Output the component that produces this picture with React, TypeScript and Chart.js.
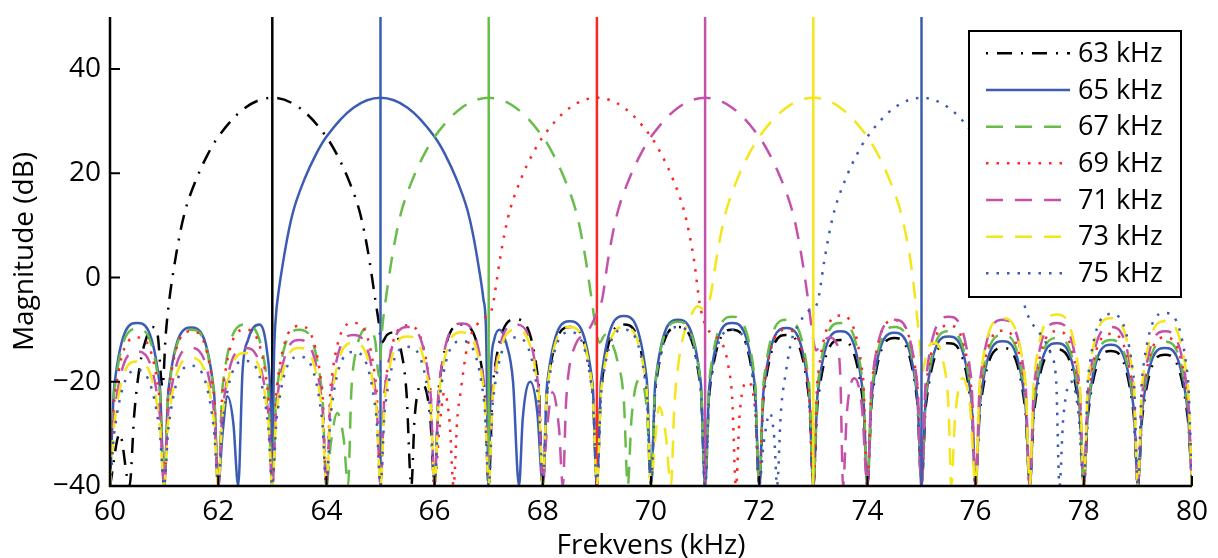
import { useEffect, useRef } from 'react';
import { Chart, registerables } from 'chart.js';

Chart.register(...registerables);

const FONT = '"Open Sans", "Noto Sans", sans-serif';

const freqTicks = [60, 62, 64, 66, 68, 70, 72, 74, 76, 78, 80];
const dbTicks = [-40, -20, 0, 20, 40];
const xRange = [60, 80];
const yRange = [-40, 50];

const seriesLabels = ['63 kHz', '65 kHz', '67 kHz', '69 kHz', '71 kHz', '73 kHz', '75 kHz'];
const centerFreqs = [63, 65, 67, 69, 71, 73, 75];

type P = [number, number];

const s63: P[] = [
  [60, -40], [60.18, -30], [60.36, -40], [60.45, -26], [60.55, -17], [60.66, -12], [60.78, -9.5], [60.88, -11], [60.97, -21], [61.03, -11],
  [61.1, -4], [61.2, 3], [61.3, 8.8], [61.4, 13.2], [61.6, 19], [61.8, 23.5], [62, 27], [62.5, 32.6], [63, 34.5],
  [63.5, 32.6], [64, 27], [64.2, 23.5], [64.4, 19], [64.6, 13.2], [64.7, 8.8], [64.8, 3], [64.9, -4],
  [64.96, -8], [65.02, -12.5], [65.12, -11], [65.25, -10.5], [65.38, -14], [65.48, -22], [65.57, -40], [65.63, -27], [65.78, -20.5], [65.92, -27],
  [66, -40], [66.08, -21], [66.5, -9], [66.92, -21],
  [67, -40], [67.08, -20], [67.5, -8], [67.92, -20],
  [68, -40], [68.08, -21.5], [68.5, -9.5], [68.92, -21.5],
  [69, -40], [69.08, -21], [69.5, -9], [69.92, -21],
  [70, -40], [70.08, -21.5], [70.5, -9.5], [70.92, -21.5],
  [71, -40], [71.08, -22], [71.5, -10], [71.92, -22],
  [72, -40], [72.08, -23], [72.5, -11], [72.92, -23],
  [73, -40], [73.08, -24], [73.5, -12], [73.92, -24],
  [74, -40], [74.08, -23.6], [74.5, -11.6], [74.92, -23.6],
  [75, -40], [75.08, -24.6], [75.5, -12.6], [75.92, -24.6],
  [76, -40], [76.08, -25.5], [76.5, -13.5], [76.92, -25.5],
  [77, -40], [77.08, -25.8], [77.5, -13.8], [77.92, -25.8],
  [78, -40], [78.08, -26.1], [78.5, -14.1], [78.92, -26.1],
  [79, -40], [79.08, -26.8], [79.5, -14.8], [79.92, -26.8], [80, -40],
];

const s65: P[] = [
  [60, -40], [60.08, -20.7], [60.5, -8.7], [60.92, -20.7],
  [61, -40], [61.08, -21.6], [61.5, -9.6], [61.92, -21.6],
  [62, -40], [62.08, -30], [62.17, -22.8], [62.28, -28], [62.37, -40], [62.45, -18], [62.55, -12], [62.76, -9], [62.9, -14], [62.97, -24],
  [63, -40], [63.03, -16], [63.07, -7], [63.1, -4], [63.2, 3], [63.3, 8.8], [63.4, 13.2], [63.6, 19], [63.8, 23.5], [64, 27], [64.5, 32.6], [65, 34.5],
  [65.5, 32.6], [66, 27], [66.2, 23.5], [66.4, 19], [66.6, 13.2], [66.7, 8.8], [66.8, 3], [66.9, -4], [66.95, -10],
  [67, -40], [67.04, -18], [67.1, -12], [67.2, -10], [67.32, -12.5], [67.45, -20], [67.56, -40], [67.63, -27], [67.77, -20], [67.9, -26],
  [68, -40], [68.08, -20.4], [68.5, -8.4], [68.92, -20.4],
  [69, -40], [69.08, -19.4], [69.5, -7.4], [69.92, -19.4],
  [70, -40], [70.08, -20.1], [70.5, -8.1], [70.92, -20.1],
  [71, -40], [71.08, -20.7], [71.5, -8.7], [71.92, -20.7],
  [72, -40], [72.08, -21.7], [72.5, -9.7], [72.92, -21.7],
  [73, -40], [73.08, -22.3], [73.5, -10.3], [73.92, -22.3],
  [74, -40], [74.08, -22.6], [74.5, -10.6], [74.92, -22.6],
  [75, -40], [75.08, -23.3], [75.5, -11.3], [75.92, -23.3],
  [76, -40], [76.08, -24.2], [76.5, -12.2], [76.92, -24.2],
  [77, -40], [77.08, -24.6], [77.5, -12.6], [77.92, -24.6],
  [78, -40], [78.08, -24.9], [78.5, -12.9], [78.92, -24.9],
  [79, -40], [79.08, -25.5], [79.5, -13.5], [79.92, -25.5], [80, -40],
];

const s67: P[] = [
  [60, -40], [60.08, -21.8], [60.5, -9.8], [60.92, -21.8],
  [61, -40], [61.08, -22], [61.5, -10], [61.92, -22],
  [62, -40], [62.08, -21], [62.5, -9], [62.92, -21],
  [63, -40], [63.08, -22], [63.5, -10], [63.92, -22],
  [64, -40], [64.08, -32], [64.2, -26], [64.32, -31], [64.4, -40], [64.46, -22], [64.55, -14], [64.76, -9.7], [64.9, -12], [64.97, -19],
  [65.03, -10], [65.1, -4], [65.2, 3], [65.3, 8.8], [65.4, 13.2], [65.6, 19], [65.8, 23.5], [66, 27], [66.5, 32.6], [67, 34.5],
  [67.5, 32.6], [68, 27], [68.2, 23.5], [68.4, 19], [68.6, 13.2], [68.7, 8.8], [68.8, 3], [68.9, -4], [69, -11], [69.05, -12.5],
  [69.15, -11], [69.25, -12], [69.38, -16], [69.5, -24], [69.57, -40], [69.64, -27], [69.78, -19.6], [69.92, -25],
  [70, -40], [70.08, -20.5], [70.5, -8.5], [70.92, -20.5],
  [71, -40], [71.08, -19.5], [71.5, -7.5], [71.92, -19.5],
  [72, -40], [72.08, -20.1], [72.5, -8.1], [72.92, -20.1],
  [73, -40], [73.08, -20.7], [73.5, -8.7], [73.92, -20.7],
  [74, -40], [74.08, -21.5], [74.5, -9.5], [74.92, -21.5],
  [75, -40], [75.08, -22.3], [75.5, -10.3], [75.92, -22.3],
  [76, -40], [76.08, -23], [76.5, -11], [76.92, -23],
  [77, -40], [77.08, -23.6], [77.5, -11.6], [77.92, -23.6],
  [78, -40], [78.08, -24], [78.5, -12], [78.92, -24],
  [79, -40], [79.08, -24.3], [79.5, -12.3], [79.92, -24.3], [80, -40],
];

const s69: P[] = [
  [60, -40], [60.08, -23.5], [60.5, -11.5], [60.92, -23.5],
  [61, -40], [61.08, -22.3], [61.5, -10.3], [61.92, -22.3],
  [62, -40], [62.08, -22], [62.5, -10], [62.92, -22],
  [63, -40], [63.08, -21.3], [63.5, -9.3], [63.92, -21.3],
  [64, -40], [64.08, -20.7], [64.5, -8.7], [64.92, -20.7],
  [65, -40], [65.08, -21.2], [65.5, -9.2], [65.92, -21.2],
  [66, -40], [66.08, -30], [66.18, -22], [66.28, -28], [66.35, -40], [66.42, -27], [66.48, -22], [66.6, -13.5], [66.8, -8.8], [66.95, -7.5], [67.06, -6],
  [67.2, 3], [67.3, 8.8], [67.4, 13.2], [67.6, 19], [67.8, 23.5], [68, 27], [68.5, 32.6], [69, 34.5],
  [69.5, 32.6], [70, 27], [70.2, 23.5], [70.4, 19], [70.6, 13.2], [70.7, 8.8], [70.8, 3], [70.9, -5], [71, -9], [71.1, -10.6], [71.22, -11.5], [71.35, -13.5], [71.43, -17], [71.5, -23],
  [71.57, -40], [71.64, -26], [71.78, -20], [71.92, -25],
  [72, -40], [72.08, -22], [72.5, -10], [72.92, -22],
  [73, -40], [73.08, -19.3], [73.5, -7.3], [73.92, -19.3],
  [74, -40], [74.08, -20.2], [74.5, -8.2], [74.92, -20.2],
  [75, -40], [75.08, -21.2], [75.5, -9.2], [75.92, -21.2],
  [76, -40], [76.08, -22.2], [76.5, -10.2], [76.92, -22.2],
  [77, -40], [77.08, -22.3], [77.5, -10.3], [77.92, -22.3],
  [78, -40], [78.08, -22.8], [78.5, -10.8], [78.92, -22.8],
  [79, -40], [79.08, -23.5], [79.5, -11.5], [79.92, -23.5], [80, -40],
];

const s71: P[] = [
  [60, -40], [60.08, -26.2], [60.5, -14.2], [60.92, -26.2],
  [61, -40], [61.08, -25.5], [61.5, -13.5], [61.92, -25.5],
  [62, -40], [62.08, -25.5], [62.5, -13.5], [62.92, -25.5],
  [63, -40], [63.08, -24], [63.5, -12], [63.92, -24],
  [64, -40], [64.08, -23], [64.5, -11], [64.92, -23],
  [65, -40], [65.08, -21.5], [65.5, -9.5], [65.92, -21.5],
  [66, -40], [66.08, -20.8], [66.5, -8.8], [66.92, -20.8],
  [67, -40], [67.08, -21], [67.5, -9], [67.92, -21],
  [68, -40], [68.07, -30], [68.18, -22], [68.3, -29], [68.37, -40], [68.43, -24], [68.48, -18], [68.6, -13], [68.85, -10], [68.97, -7.5], [69.1, -4],
  [69.2, 3], [69.3, 8.8], [69.4, 13.2], [69.6, 19], [69.8, 23.5], [70, 27], [70.5, 32.6], [71, 34.5],
  [71.5, 32.6], [72, 27], [72.2, 23.5], [72.4, 19], [72.6, 13.2], [72.7, 8.8], [72.8, 3], [72.9, -4], [73, -12], [73.05, -14], [73.15, -12.5], [73.3, -11.5], [73.42, -12.5], [73.5, -19],
  [73.55, -40], [73.62, -26], [73.76, -19.3], [73.9, -25],
  [74, -40], [74.08, -20.1], [74.5, -8.1], [74.92, -20.1],
  [75, -40], [75.08, -19.5], [75.5, -7.5], [75.92, -19.5],
  [76, -40], [76.08, -20.1], [76.5, -8.1], [76.92, -20.1],
  [77, -40], [77.08, -20.7], [77.5, -8.7], [77.92, -20.7],
  [78, -40], [78.08, -21.5], [78.5, -9.5], [78.92, -21.5],
  [79, -40], [79.08, -22.3], [79.5, -10.3], [79.92, -22.3], [80, -40],
];

const s73: P[] = [
  [60, -40], [60.08, -28.1], [60.5, -16.1], [60.92, -28.1],
  [61, -40], [61.08, -27.4], [61.5, -15.4], [61.92, -27.4],
  [62, -40], [62.08, -26.5], [62.5, -14.5], [62.92, -26.5],
  [63, -40], [63.08, -25.5], [63.5, -13.5], [63.92, -25.5],
  [64, -40], [64.08, -24.5], [64.5, -12.5], [64.92, -24.5],
  [65, -40], [65.08, -23.3], [65.5, -11.3], [65.92, -23.3],
  [66, -40], [66.08, -22.5], [66.5, -10.5], [66.92, -22.5],
  [67, -40], [67.08, -22], [67.5, -10], [67.92, -22],
  [68, -40], [68.08, -21.5], [68.5, -9.5], [68.92, -21.5],
  [69, -40], [69.08, -21.5], [69.5, -9.5], [69.92, -21.5],
  [70, -40], [70.07, -32], [70.15, -24.8], [70.27, -30], [70.37, -40], [70.43, -25], [70.49, -18], [70.58, -12], [70.73, -7.5], [70.86, -5.5], [70.97, -6], [71.08, -4.5],
  [71.2, 3], [71.3, 8.8], [71.4, 13.2], [71.6, 19], [71.8, 23.5], [72, 27], [72.5, 32.6], [73, 34.5],
  [73.5, 32.6], [74, 27], [74.2, 23.5], [74.4, 19], [74.6, 13.2], [74.7, 8.8], [74.8, 3], [74.9, -5.5], [74.96, -12], [75.02, -18], [75.1, -14], [75.25, -12.5], [75.4, -16], [75.5, -25],
  [75.55, -40], [75.62, -27], [75.76, -19.3], [75.9, -25],
  [76, -40], [76.08, -19.8], [76.5, -7.8], [76.92, -19.8],
  [77, -40], [77.08, -19.1], [77.5, -7.1], [77.92, -19.1],
  [78, -40], [78.08, -19.8], [78.5, -7.8], [78.92, -19.8],
  [79, -40], [79.08, -20.4], [79.5, -8.4], [79.92, -20.4], [80, -40],
];

const s75: P[] = [
  [60, -40], [60.08, -29.7], [60.5, -17.7], [60.92, -29.7],
  [61, -40], [61.08, -28.9], [61.5, -16.9], [61.92, -28.9],
  [62, -40], [62.08, -28], [62.5, -16], [62.92, -28],
  [63, -40], [63.08, -27.2], [63.5, -15.2], [63.92, -27.2],
  [64, -40], [64.08, -26.3], [64.5, -14.3], [64.92, -26.3],
  [65, -40], [65.08, -25.3], [65.5, -13.3], [65.92, -25.3],
  [66, -40], [66.08, -24.2], [66.5, -12.2], [66.92, -24.2],
  [67, -40], [67.08, -23.5], [67.5, -11.5], [67.92, -23.5],
  [68, -40], [68.08, -22.5], [68.5, -10.5], [68.92, -22.5],
  [69, -40], [69.08, -22], [69.5, -10], [69.92, -22],
  [70, -40], [70.08, -21.5], [70.5, -9.5], [70.92, -21.5],
  [71, -40], [71.08, -22], [71.5, -10], [71.92, -22],
  [72, -40], [72.08, -32], [72.2, -26], [72.28, -31], [72.33, -40], [72.4, -26], [72.5, -17.7], [72.6, -12], [72.74, -8.8], [72.9, -6.5], [73.07, -5],
  [73.2, 3], [73.3, 8.8], [73.4, 13.2], [73.6, 19], [73.8, 23.5], [74, 27], [74.5, 32.6], [75, 34.5],
  [75.5, 32.6], [76, 27], [76.2, 23.5], [76.4, 19], [76.6, 13.2], [76.7, 8.8], [76.8, 3], [76.9, -5], [77, -8], [77.18, -10.6], [77.3, -12.5], [77.4, -15], [77.49, -20],
  [77.55, -40], [77.62, -27], [77.77, -20], [77.9, -26],
  [78, -40], [78.08, -19], [78.5, -7], [78.92, -19],
  [79, -40], [79.08, -18.8], [79.5, -6.8], [79.92, -18.8], [80, -40],
];

const seriesData = [s63, s65, s67, s69, s71, s73, s75];

// styles
const seriesColors = ['#000000', '#3b5cb2', '#68bd4a', '#ff2525', '#c452ab', '#f4e619', '#3b5cb2'];
const seriesDash: number[][] = [[15, 9, 2, 9], [], [17, 12], [2.5, 8], [17, 12], [17, 12], [2.5, 8]];
const legendDashOffset = [24, 0, 0, 0, 0, 0, 0];

const frame = {
  id: 'frame',
  afterDatasetsDraw(chart: any) {
    const { ctx, chartArea, scales } = chart;
    const { left, right, top, bottom } = chartArea;
    ctx.save();
    ctx.setLineDash([]);
    ctx.strokeStyle = '#000';
    ctx.lineWidth = 2.5;
    ctx.beginPath();
    ctx.moveTo(left, top);
    ctx.lineTo(left, bottom);
    ctx.lineTo(right, bottom);
    ctx.stroke();
    ctx.lineWidth = 2;
    ctx.beginPath();
    for (const v of freqTicks) {
      const px = scales.x.getPixelForValue(v);
      ctx.moveTo(px, bottom);
      ctx.lineTo(px, bottom - 10);
    }
    for (const v of dbTicks) {
      const py = scales.y.getPixelForValue(v);
      ctx.moveTo(left, py);
      ctx.lineTo(left + 10, py);
    }
    ctx.stroke();
    ctx.restore();
  },
  afterDraw(chart: any) {
    const { ctx, chartArea } = chart;
    const { left, right, top, bottom } = chartArea;
    ctx.save();
    ctx.fillStyle = '#000';
    ctx.font = `28px ${FONT}`;
    ctx.textAlign = 'center';
    ctx.textBaseline = 'middle';
    ctx.fillText('Frekvens (kHz)', (left + right) / 2, 546);
    ctx.save();
    ctx.translate(25, (top + bottom) / 2);
    ctx.rotate(-Math.PI / 2);
    ctx.fillText('Magnitude (dB)', 0, 0);
    ctx.restore();

    const bx = 969, by = 31, bw = 212, bh = 266;
    ctx.fillStyle = '#fff';
    ctx.fillRect(bx, by, bw, bh);
    ctx.lineWidth = 2;
    ctx.strokeStyle = '#000';
    ctx.setLineDash([]);
    ctx.strokeRect(bx, by, bw, bh);
    seriesLabels.forEach((lab, i) => {
      const y = 53.3 + i * 36.67;
      ctx.beginPath();
      ctx.strokeStyle = seriesColors[i];
      ctx.lineWidth = 2.5;
      ctx.setLineDash(seriesDash[i]);
      ctx.lineDashOffset = legendDashOffset[i];
      ctx.moveTo(986, y);
      ctx.lineTo(1070, y);
      ctx.stroke();
      ctx.setLineDash([]);
      ctx.lineDashOffset = 0;
      ctx.fillStyle = '#000';
      ctx.font = `27px ${FONT}`;
      ctx.textAlign = 'left';
      ctx.textBaseline = 'middle';
      ctx.fillText(lab, 1078, y + 1);
    });
    ctx.restore();
  },
};

const zeroPad = (s: any) => {
  s.paddingTop = 0;
  s.paddingBottom = 0;
  s.paddingLeft = 0;
  s.paddingRight = 0;
};

export default function App() {
  const ref = useRef<HTMLCanvasElement>(null);
  useEffect(() => {
    const canvas = ref.current;
    if (!canvas) return;
    const datasets: any[] = [];
    seriesData.forEach((pts, i) => {
      datasets.push({
        label: seriesLabels[i],
        data: pts.map(([x, y]) => ({ x, y })),
        borderColor: seriesColors[i],
        borderDash: seriesDash[i],
        borderWidth: 2.5,
        pointRadius: 0,
        fill: false,
        cubicInterpolationMode: 'monotone',
        order: 100 - 2 * i,
      });
      datasets.push({
        label: '',
        data: [{ x: centerFreqs[i], y: yRange[0] }, { x: centerFreqs[i], y: yRange[1] }],
        borderColor: seriesColors[i],
        borderWidth: 2.5,
        pointRadius: 0,
        fill: false,
        order: 99 - 2 * i,
      });
    });
    const tickFont = { family: FONT, size: 28 };
    const chart = new Chart(canvas, {
      type: 'line',
      data: { datasets },
      options: {
        responsive: false,
        animation: false,
        events: [],
        layout: { padding: { left: 0, right: 26, top: 17, bottom: 0 } },
        plugins: { legend: { display: false }, tooltip: { enabled: false } },
        scales: {
          x: {
            type: 'linear',
            min: xRange[0],
            max: xRange[1],
            afterBuildTicks: (s: any) => { s.ticks = freqTicks.map((v) => ({ value: v })); },
            afterFit: (s: any) => { s.height = 72; zeroPad(s); },
            grid: { display: false, drawTicks: false },
            border: { display: false },
            ticks: { font: tickFont, color: '#000', padding: 9, maxRotation: 0, autoSkip: false },
          },
          y: {
            type: 'linear',
            min: yRange[0],
            max: yRange[1],
            afterBuildTicks: (s: any) => { s.ticks = dbTicks.map((v) => ({ value: v })); },
            afterFit: (s: any) => { s.width = 110; zeroPad(s); },
            grid: { display: false, drawTicks: false },
            border: { display: false },
            ticks: {
              font: tickFont,
              color: '#000',
              padding: 9,
              callback: (v: any) => (Number(v) < 0 ? '\u2212' + Math.abs(Number(v)) : String(v)),
            },
          },
        },
      } as any,
      plugins: [frame],
    });
    return () => chart.destroy();
  }, []);
  return (
    <div style={{ position: 'fixed', left: 0, top: 0, width: 1218, height: 558, background: '#fff' }}>
      <canvas ref={ref} width={1218} height={558} style={{ display: 'block', width: 1218, height: 558 }} />
    </div>
  );
}
